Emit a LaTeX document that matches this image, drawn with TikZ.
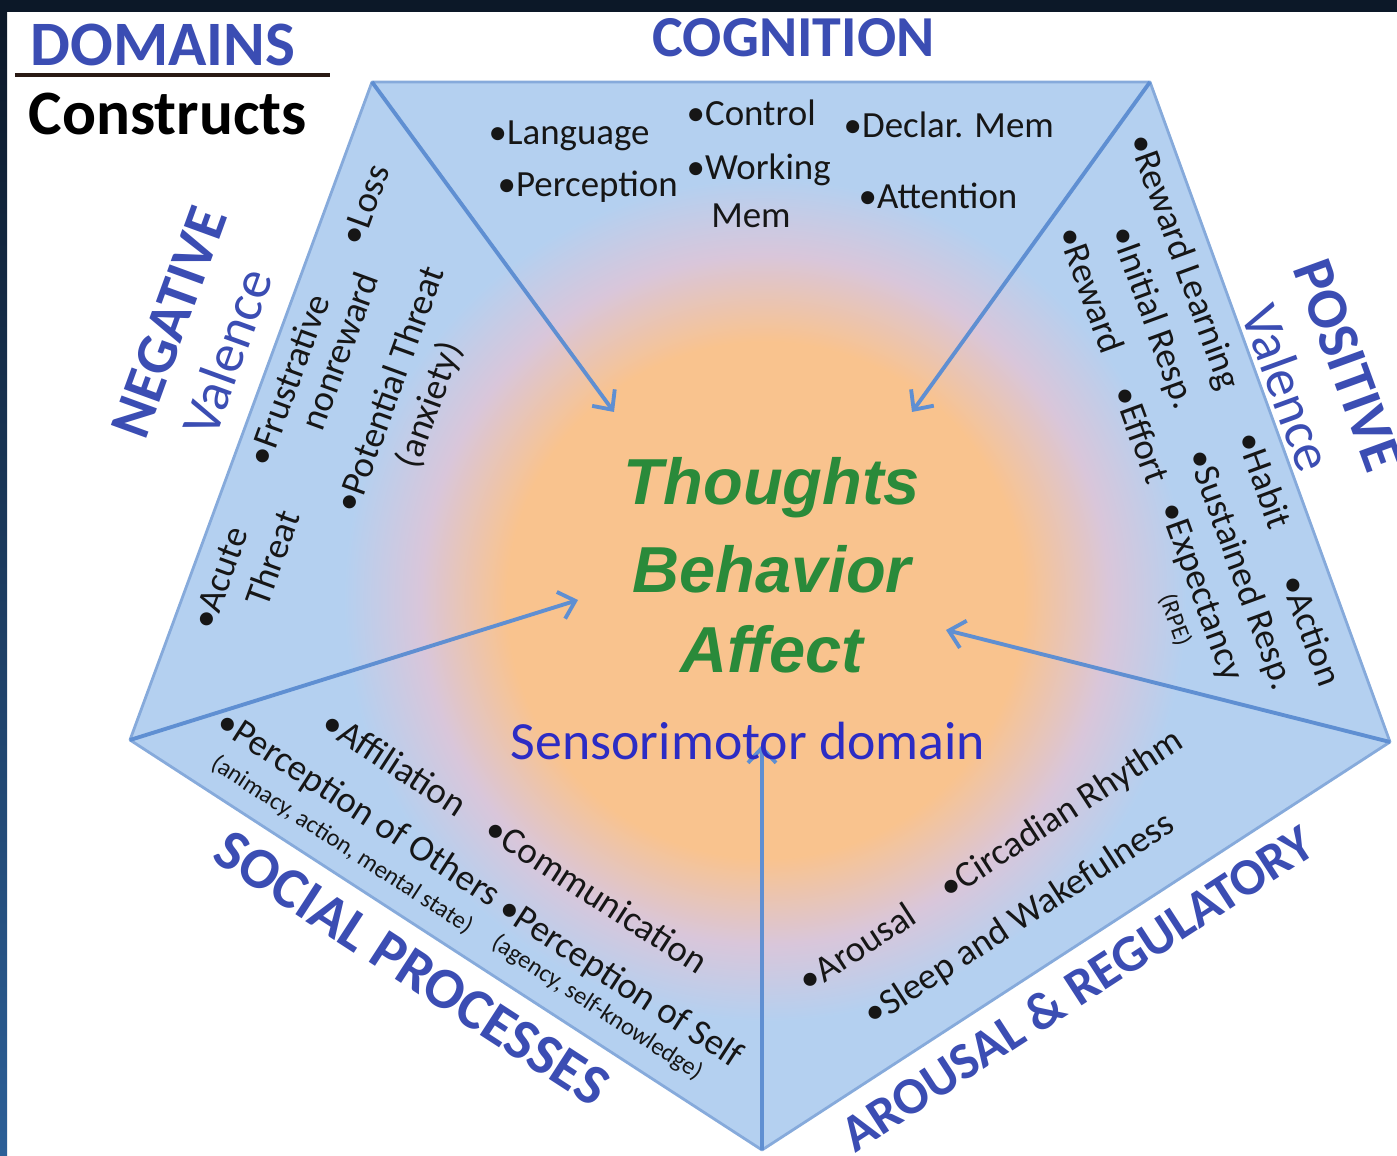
\documentclass[tikz,border=0pt]{standalone}
\usepackage{fontspec}
\setmainfont{Carlito}
\newfontfamily\coresans{Liberation Sans}
\usepackage{tikz}
\usetikzlibrary{calc,arrows.meta}
\definecolor{domainblue}{HTML}{3B4DB3}
\definecolor{inkblack}{HTML}{161616}
\definecolor{coregreen}{HTML}{2A8A3A}
\definecolor{motorblue}{HTML}{2C2CC4}
\definecolor{paneblue}{HTML}{B4D0F0}
\definecolor{coreorange}{HTML}{F9C38E}
\definecolor{haze}{HTML}{D9C6DA}
\definecolor{edgeblue}{HTML}{86AADB}
\definecolor{spokeblue}{HTML}{5F8FD2}
\definecolor{barnavy}{HTML}{0C1828}
\definecolor{barblue}{HTML}{2C5F97}
\definecolor{rulebrown}{HTML}{2A1A14}
\pgfdeclareradialshading{coreglow}{\pgfpoint{0bp}{0bp}}{color(0bp)=(coreorange); color(15bp)=(coreorange); color(20bp)=(haze); color(24.5bp)=(paneblue); color(50bp)=(paneblue)}

\begin{document}
\begin{tikzpicture}[
        domainlabel/.style={font=\bfseries\fontsize{16.5}{19}\selectfont, text=domainblue, inner sep=0pt},
        valence/.style={font=\fontsize{15.5}{17}\selectfont, text=domainblue, inner sep=0pt},
        construct/.style={font=\fontsize{10.5}{12.5}\selectfont, text=inkblack, inner sep=0pt},
        aside/.style={font=\fontsize{7}{8}\selectfont, text=inkblack, inner sep=0pt},
        core/.style={font=\coresans\bfseries\itshape\fontsize{18.5}{22}\selectfont, text=coregreen, inner sep=0pt},
        spoke/.style={-{Straight Barb[length=1.5mm,width=2.8mm]}, draw=spokeblue, line width=1.1pt},
        ]
        \useasboundingbox (0,0) rectangle (13.97,-11.56);
        \fill[white] (0,0) rectangle (13.97,-11.56);
        \fill[barnavy] (0,0) rectangle (13.97,-0.12);
        \shade[top color=barnavy, bottom color=barblue] (0,-0.12) rectangle (0.07,-11.56);

        \coordinate (tl) at (3.72,-0.82);
        \coordinate (tr) at (11.50,-0.82);
        \coordinate (rt) at (13.90,-7.42);
        \coordinate (bt) at (7.62,-11.50);
        \coordinate (lt) at (1.30,-7.40);

        \fill[paneblue] (tl) -- (tr) -- (rt) -- (bt) -- (lt) -- cycle;
        \begin{scope}
            \clip (tl) -- (tr) -- (rt) -- (bt) -- (lt) -- cycle;
            \shade[shading=coreglow] (7.65,-6.00) circle (4.3cm);
        \end{scope}
        \draw[edgeblue, line width=0.8pt, line join=round] (tl) -- (tr) -- (rt) -- (bt) -- (lt) -- cycle;

        \coordinate (cogltip) at (6.14,-4.12);
        \coordinate (cogrtip) at (9.12,-4.12);
        \coordinate (negtip) at (5.78,-6.00);
        \coordinate (postip) at (9.46,-6.30);
        \coordinate (arotip) at (7.62,-7.45);
        \draw[spoke] (tl) -- (cogltip);
        \draw[spoke] (tr) -- (cogrtip);
        \draw[spoke] (lt) -- (negtip);
        \draw[spoke] (rt) -- (postip);
        \draw[spoke] (bt) -- (arotip);

        \node[domainlabel, font=\bfseries\fontsize{18}{20}\selectfont, anchor=base west] (domains) at (0.30,-0.66) {DOMAINS};
        \draw[rulebrown, line width=1.4pt] (0.15,-0.75) -- (3.30,-0.75);
        \node[domainlabel, font=\bfseries\fontsize{18}{20}\selectfont, text=black, anchor=base west] (constructs) at (0.28,-1.35) {Constructs};

        \node[domainlabel, anchor=base west] (cognition) at (6.52,-0.57) {COGNITION};
        \node[construct, anchor=base west] (language) at (4.88,-1.45) {•Language};
        \node[construct, anchor=base west] (perception) at (4.97,-1.97) {•Perception};
        \node[construct, anchor=base west] (control) at (6.86,-1.26) {•Control};
        \node[construct, anchor=base west] (working) at (6.86,-1.80) {•Working};
        \node[construct, anchor=base] (workmem) at (7.51,-2.28) {Mem};
        \node[construct, anchor=base west] (declar) at (8.43,-1.38) {•Declar. Mem};
        \node[construct, anchor=base west] (attention) at (8.58,-2.09) {•Attention};

        \node[domainlabel, rotate=70] (negative) at (1.69,-3.22) {NEGATIVE};
        \node[valence, rotate=70] (negval) at (2.27,-3.52) {Valence};
        \node[construct, rotate=70] (acute) at (2.20,-5.78) {•Acute};
        \node[construct, rotate=70] (acute2) at (2.72,-5.58) {Threat};
        \node[construct, rotate=70] (frustr) at (2.88,-3.80) {•Frustrative};
        \node[construct, rotate=70] (frustr2) at (3.39,-3.51) {nonreward};
        \node[construct, rotate=70] (loss) at (3.65,-2.05) {•Loss};
        \node[construct, rotate=70] (potential) at (3.89,-3.89) {•Potential Threat};
        \node[construct, rotate=70] (potential2) at (4.30,-4.05) {(anxiety)};

        \node[domainlabel, rotate=-70] (positive) at (13.48,-3.65) {POSITIVE};
        \node[valence, rotate=-70] (posval) at (12.88,-3.88) {Valence};
        \node[construct, rotate=-70] (rewlearn) at (11.83,-2.62) {•Reward Learning};
        \node[construct, rotate=-70] (initial) at (11.52,-3.18) {•Initial Resp.};
        \node[construct, rotate=-70] (reward) at (10.92,-2.90) {•Reward};
        \node[construct, rotate=-70] (habit) at (12.65,-4.80) {•Habit};
        \node[construct, rotate=-70] (sustained) at (12.40,-5.70) {•Sustained Resp.};
        \node[construct, rotate=-70] (effort) at (11.42,-4.35) {•Effort};
        \node[construct, rotate=-70] (expect) at (12.00,-5.92) {•Expectancy};
        \node[aside, rotate=-70] (rpe) at (11.75,-6.20) {(RPE)};
        \node[construct, rotate=-70] (action) at (13.12,-6.30) {•Action};

        \node[domainlabel, rotate=-33] (social) at (4.12,-9.68) {SOCIAL PROCESSES};
        \node[construct, rotate=-33] (affil) at (3.95,-7.63) {•Affiliation};
        \node[construct, rotate=-33] (percothers) at (3.58,-8.10) {•Perception of Others};
        \node[aside, rotate=-33] (animacy) at (3.42,-8.45) {(animacy, action, mental state)};
        \node[construct, rotate=-33] (commun) at (5.97,-8.95) {•Communication};
        \node[construct, rotate=-33] (percself) at (6.20,-9.83) {•Perception of Self};
        \node[aside, rotate=-33] (agency) at (5.97,-10.08) {(agency, self-knowledge)};

        \node[domainlabel, font=\bfseries\fontsize{14.8}{17}\selectfont, rotate=33] (arousaldom) at (10.77,-9.88) {AROUSAL \& REGULATORY};
        \node[construct, rotate=33] (arousal) at (8.57,-9.47) {•Arousal};
        \node[construct, rotate=33] (circadian) at (10.62,-8.15) {•Circadian Rhythm};
        \node[construct, rotate=33] (sleep) at (10.20,-9.20) {•Sleep and Wakefulness};

        \node[core, anchor=base] (thoughts) at (7.72,-5.05) {Thoughts};
        \node[core, anchor=base] (behavior) at (7.72,-5.93) {Behavior};
        \node[core, anchor=base] (affect) at (7.72,-6.73) {Affect};
        \node[font=\fontsize{15.3}{17}\selectfont, text=motorblue, inner sep=0pt, anchor=base] (sensorimotor) at (7.48,-7.60) {Sensorimotor domain};
\end{tikzpicture}
\end{document}
